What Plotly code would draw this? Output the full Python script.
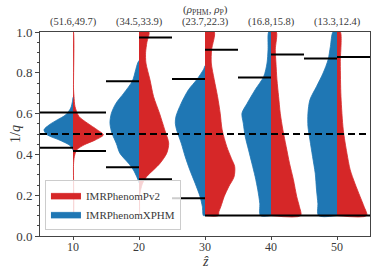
import plotly.graph_objects as go

# ---------------- data ----------------
z_hat = [10, 20, 30, 40, 50]
snr_labels = ["(51.6,49.7)", "(34.5,33.9)", "(23.7,22.3)", "(16.8,15.8)", "(13.3,12.4)"]
y_ticks = [0.0, 0.2, 0.4, 0.6, 0.8, 1.0]

# 90% credible bounds of 1/q
xphm_lower = [0.433, 0.337, 0.185, 0.100, 0.100]
xphm_upper = [0.605, 0.759, 0.769, 0.777, 0.870]
pv2_lower = [0.417, 0.278, 0.100, 0.100, 0.100]
pv2_upper = [0.605, 0.973, 0.913, 0.890, 0.877]

injected_inv_q = 0.5

# violin density profiles: (1/q, half-width in z-hat units)
xphm_profile_10 = [(0.68, 0.0), (0.66, 0.08), (0.627, 0.35), (0.594, 1.1), (0.569, 2.4), (0.545, 3.6),
                   (0.52, 4.4), (0.496, 3.9), (0.471, 2.1), (0.447, 0.6), (0.43, 0.1), (0.42, 0.0)]
pv2_profile_10 = [(1.0, 0.06), (0.72, 0.08), (0.684, 0.15), (0.635, 0.3), (0.586, 0.9), (0.553, 2.2),
                  (0.52, 3.7), (0.496, 4.6), (0.471, 3.4), (0.447, 1.7), (0.422, 0.55), (0.389, 0.2),
                  (0.35, 0.08), (0.1, 0.06)]
xphm_profile_20 = [(0.86, 0.0), (0.848, 0.2), (0.815, 0.5), (0.76, 1.0), (0.70, 2.3), (0.65, 3.5),
                   (0.60, 4.2), (0.553, 4.4), (0.504, 4.1), (0.455, 3.45), (0.406, 2.9), (0.357, 1.6),
                   (0.324, 0.85), (0.291, 0.35), (0.267, 0.05), (0.26, 0.0)]
pv2_profile_20 = [(1.0, 1.5), (0.95, 1.2), (0.9, 1.0), (0.848, 1.05), (0.766, 1.66), (0.684, 2.2),
                  (0.602, 3.1), (0.52, 3.9), (0.455, 4.5), (0.406, 4.2), (0.357, 3.2), (0.324, 2.2),
                  (0.291, 1.15), (0.259, 0.55), (0.226, 0.25), (0.2, 0.1), (0.1, 0.05)]
xphm_profile_30 = [(0.835, 0.0), (0.815, 0.25), (0.766, 1.26), (0.717, 2.5), (0.651, 3.6), (0.586, 4.4),
                   (0.553, 4.5), (0.52, 4.3), (0.455, 3.6), (0.389, 3.0), (0.324, 2.3), (0.259, 1.5),
                   (0.193, 0.75), (0.144, 0.4), (0.1, 0.25)]
pv2_profile_30 = [(1.0, 1.4), (0.913, 1.0), (0.848, 0.95), (0.766, 1.4), (0.684, 1.9), (0.602, 2.3),
                  (0.52, 2.6), (0.438, 3.3), (0.38, 4.0), (0.34, 4.5), (0.29, 4.4), (0.242, 3.6),
                  (0.193, 2.9), (0.144, 2.4), (0.119, 2.1), (0.1, 2.0)]
xphm_profile_40 = [(1.0, 0.35), (0.913, 0.45), (0.848, 0.6), (0.782, 1.1), (0.717, 2.4), (0.651, 3.6),
                   (0.602, 4.4), (0.553, 4.2), (0.487, 3.9), (0.422, 3.4), (0.357, 2.9), (0.291, 2.4),
                   (0.226, 2.0), (0.16, 1.7), (0.1, 1.6)]
pv2_profile_40 = [(1.0, 0.8), (0.913, 0.65), (0.848, 0.75), (0.766, 0.9), (0.684, 1.15), (0.602, 1.4),
                  (0.52, 1.8), (0.438, 2.3), (0.357, 2.8), (0.275, 3.4), (0.193, 3.9), (0.144, 4.3),
                  (0.1, 4.5)]
xphm_profile_50 = [(1.0, 0.6), (0.929, 1.0), (0.864, 1.35), (0.799, 2.1), (0.733, 3.1), (0.668, 4.1),
                   (0.602, 4.4), (0.537, 4.4), (0.471, 4.1), (0.389, 3.7), (0.308, 3.3), (0.226, 3.1),
                   (0.16, 2.9), (0.1, 2.8)]
pv2_profile_50 = [(1.0, 0.5), (0.848, 0.5), (0.684, 0.6), (0.52, 0.95), (0.406, 1.5), (0.324, 2.0),
                  (0.259, 2.7), (0.193, 3.5), (0.144, 4.1), (0.1, 4.5)]

xphm_profiles = [xphm_profile_10, xphm_profile_20, xphm_profile_30, xphm_profile_40, xphm_profile_50]
pv2_profiles = [pv2_profile_10, pv2_profile_20, pv2_profile_30, pv2_profile_40, pv2_profile_50]

# ---------------- styling ----------------
RED = "#d62728"
BLUE = "#1f77b4"
FONT = "Liberation Serif"
TXT = "#3a3a3a"
HALF = 5.0


def half_violin(center, prof, sign):
    ys = [p[0] for p in prof]
    ws = [p[1] for p in prof]
    x = [center] + [center + sign * w for w in ws] + [center]
    y = [ys[0]] + ys + [ys[-1]]
    return x, y


fig = go.Figure()

for i, c in enumerate(z_hat):
    x, y = half_violin(c, pv2_profiles[i], +1)
    fig.add_trace(go.Scatter(x=x, y=y, fill="toself", fillcolor=RED, mode="lines",
                             line=dict(color=RED, width=0.8, shape="spline", smoothing=0.8),
                             name="IMRPhenomPv2", legendgroup="pv2", showlegend=(i == 0),
                             hoverinfo="skip"))
for i, c in enumerate(z_hat):
    x, y = half_violin(c, xphm_profiles[i], -1)
    fig.add_trace(go.Scatter(x=x, y=y, fill="toself", fillcolor=BLUE, mode="lines",
                             line=dict(color=BLUE, width=0.8, shape="spline", smoothing=0.8),
                             name="IMRPhenomXPHM", legendgroup="xphm", showlegend=(i == 0),
                             hoverinfo="skip"))

# credible interval lines
lx, ly = [], []
for i, c in enumerate(z_hat):
    for v in (xphm_lower[i], xphm_upper[i]):
        lx += [c - HALF, c, None]
        ly += [v, v, None]
    for v in (pv2_lower[i], pv2_upper[i]):
        lx += [c, c + HALF, None]
        ly += [v, v, None]
fig.add_trace(go.Scatter(x=lx, y=ly, mode="lines", line=dict(color="black", width=2),
                         showlegend=False, hoverinfo="skip"))

# injected value
fig.add_trace(go.Scatter(x=[5, 55], y=[injected_inv_q, injected_inv_q], mode="lines",
                         line=dict(color="black", width=2, dash="7px,4px"),
                         showlegend=False, hoverinfo="skip"))

axis_common = dict(showgrid=False, zeroline=False, linecolor="#444", linewidth=1,
                   tickcolor="#444", automargin=False)

annotations = [
    dict(text=lab, xref="x", yref="paper", x=zv, y=1 + 10 / 204, xanchor="center",
         yanchor="middle", showarrow=False, font=dict(family=FONT, size=10.5, color=TXT))
    for zv, lab in zip(z_hat, snr_labels)
]
annotations += [
    dict(text="<i>ẑ</i>", xref="paper", yref="paper", x=0.5, y=-25 / 204, xanchor="center",
         yanchor="middle", showarrow=False, font=dict(family=FONT, size=14, color=TXT)),
    dict(text="1/<i>q</i>", xref="paper", yref="paper", x=-25 / 330, y=0.5, xanchor="center",
         yanchor="middle", textangle=-90, showarrow=False,
         font=dict(family=FONT, size=14, color=TXT)),
    dict(text="(<i>ρ</i><sub>PHM</sub>, <i>ρ</i><sub>P</sub>)", xref="paper", yref="paper",
         x=0.5, y=1 + 22 / 204, xanchor="center", yanchor="middle", showarrow=False,
         font=dict(family=FONT, size=11, color=TXT)),
]

fig.update_layout(
    width=374, height=270,
    margin=dict(l=40, r=4, t=32, b=34),
    plot_bgcolor="white", paper_bgcolor="white",
    font=dict(family=FONT, size=12, color=TXT),
    xaxis=dict(range=[5, 55], tickvals=z_hat, ticktext=[str(v) for v in z_hat],
               ticks="outside", ticklen=3, mirror=True, ticklabelstandoff=-3,
               tickfont=dict(family=FONT, size=12, color=TXT), **axis_common),
    yaxis=dict(range=[0, 1], tickvals=y_ticks, tickformat=".1f", ticks="outside", ticklen=4,
               mirror=True, tickfont=dict(family=FONT, size=13, color=TXT),
               minor=dict(dtick=0.05, ticks="outside", ticklen=2, tickcolor="#444"),
               **axis_common),
    legend=dict(x=0.015, y=0.03, xanchor="left", yanchor="bottom",
                bgcolor="rgba(255,255,255,0.8)", bordercolor="#ccc", borderwidth=1,
                font=dict(family=FONT, size=11, color=TXT), tracegroupgap=0,
                itemwidth=30),
    annotations=annotations,
)

fig.write_html("out.html", config={"displayModeBar": False},
               post_script="document.body.style.margin='0';document.body.style.overflow='hidden';")
